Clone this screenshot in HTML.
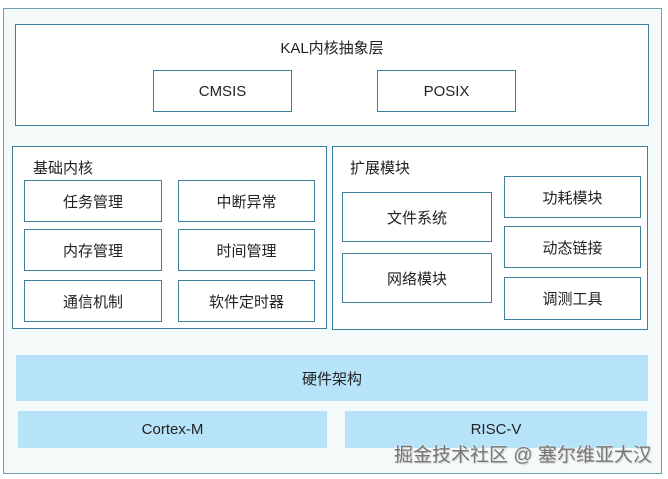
<!DOCTYPE html>
<html><head><meta charset="utf-8"><style>
body{margin:0;width:668px;height:479px;background:#fff;position:relative;overflow:hidden;font-family:"Liberation Sans","Noto Sans CJK SC",sans-serif;color:#222}
div{position:absolute;box-sizing:border-box}
.b{border:1px solid #3f7f9c;background:#fff;display:flex;align-items:center;justify-content:center;font-size:15px}
.t{font-size:15px}
.h{background:#b6e3f8;display:flex;align-items:center;justify-content:center;font-size:15px}
</style></head><body>
<div style="left:3px;top:8px;width:659px;height:466px;border:1px solid #6f9fb4;background:#f4f9f9"></div>
<div class="b" style="left:15px;top:24px;width:634px;height:102px"></div>
<div class="t" style="left:0;width:664px;top:37px;text-align:center">KAL内核抽象层</div>
<div class="b" style="left:153px;top:70px;width:139px;height:42px">CMSIS</div>
<div class="b" style="left:377px;top:70px;width:139px;height:42px">POSIX</div>
<div class="b" style="left:12px;top:146px;width:315px;height:183px"></div>
<div class="t" style="left:33px;top:157px">基础内核</div>
<div class="b" style="left:24px;top:180px;width:138px;height:42px">任务管理</div>
<div class="b" style="left:178px;top:180px;width:137px;height:42px">中断异常</div>
<div class="b" style="left:24px;top:229px;width:138px;height:42px">内存管理</div>
<div class="b" style="left:178px;top:229px;width:137px;height:42px">时间管理</div>
<div class="b" style="left:24px;top:280px;width:138px;height:42px">通信机制</div>
<div class="b" style="left:178px;top:280px;width:137px;height:42px">软件定时器</div>
<div class="b" style="left:332px;top:146px;width:316px;height:184px"></div>
<div class="t" style="left:350px;top:157px">扩展模块</div>
<div class="b" style="left:342px;top:192px;width:150px;height:50px">文件系统</div>
<div class="b" style="left:342px;top:253px;width:150px;height:50px">网络模块</div>
<div class="b" style="left:504px;top:176px;width:137px;height:42px">功耗模块</div>
<div class="b" style="left:504px;top:226px;width:137px;height:42px">动态链接</div>
<div class="b" style="left:504px;top:277px;width:137px;height:43px">调测工具</div>
<div class="h" style="left:16px;top:355px;width:632px;height:46px">硬件架构</div>
<div class="h" style="left:18px;top:411px;width:309px;height:37px">Cortex-M</div>
<div class="h" style="left:345px;top:411px;width:302px;height:37px">RISC-V</div>
<div style="left:394px;top:440px;font-size:19px;color:#777;text-shadow:1px 1px 1px #ccc,0 0 2px #fff;white-space:nowrap">掘金技术社区 @ 塞尔维亚大汉</div>
</body></html>
